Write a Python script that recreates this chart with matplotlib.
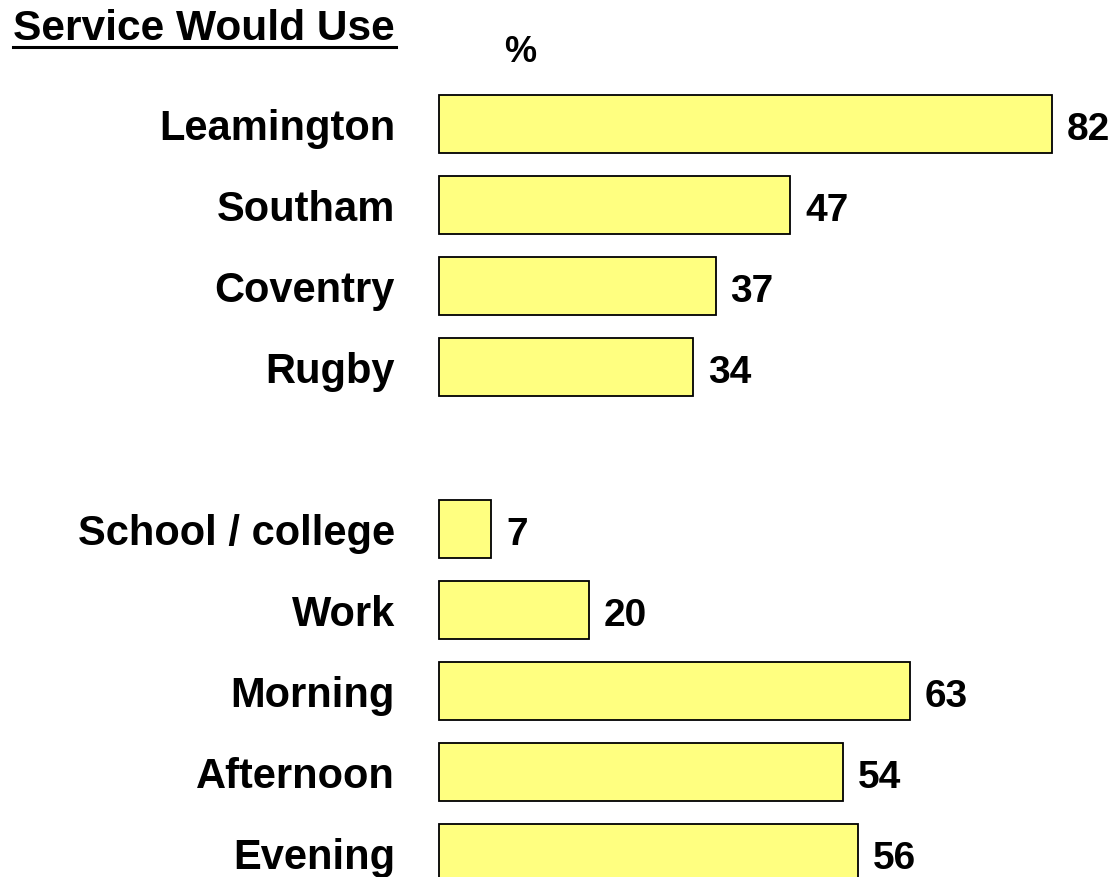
import matplotlib.pyplot as plt
from matplotlib.lines import Line2D

FAM = ["Liberation Sans", "DejaVu Sans"]

# data
categorias = ["Leamington", "Southam", "Coventry", "Rugby",
              "School / college", "Work", "Morning", "Afternoon", "Evening"]
valores = [82, 47, 37, 34, 7, 20, 63, 54, 56]
posiciones = [0, 1, 2, 3, 5, 6, 7, 8, 9]

W, H = 1120, 878
fig = plt.figure(figsize=(W / 100, H / 100), dpi=100)
ax = fig.add_axes([0, 0, 1, 1])

# escala: 0 en x=439px, 7.476 px por punto; filas cada 81px, primera en y=125px
px_x = 7.476
ax.set_xlim(-439 / px_x, (W - 439) / px_x)
ax.set_ylim((H - 125) / 81, -125 / 81)
ax.axis("off")

ax.barh(posiciones, valores, height=0.71, left=0, color="#FFFF80",
        edgecolor="black", linewidth=1.3)

off = 15 / 81  # mitad de la altura de mayusculas en filas
for p, v, c in zip(posiciones, valores, categorias):
    ax.text(v + 15 / px_x, p + off, str(v), ha="left", va="baseline",
            fontsize=28, fontweight="bold", family=FAM)
    ax.text(-44 / px_x, p + off, c, ha="right", va="baseline",
            fontsize=30, fontweight="bold", family=FAM)

# titulo subrayado
fig.text(395 / W, 1 - 40 / H, "Service Would Use", ha="right", va="baseline",
         fontsize=30.6, fontweight="bold", family=FAM)
fig.add_artist(Line2D([13 / W, 396 / W], [1 - 47.5 / H, 1 - 47.5 / H],
                      color="black", linewidth=2.2, transform=fig.transFigure))
fig.text(520 / W, 1 - 62 / H, "%", ha="center", va="baseline",
         fontsize=26, fontweight="bold", family=FAM)

fig.savefig("out.png", dpi=100)
